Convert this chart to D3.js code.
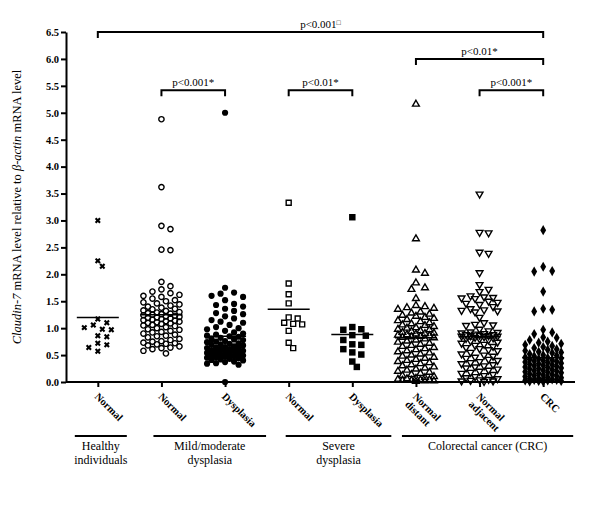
<!DOCTYPE html>
<html><head><meta charset="utf-8">
<script src="https://cdn.jsdelivr.net/npm/d3@7"></script>
<style>body{margin:0;background:#fff} svg{display:block}</style>
</head><body><svg id="chart" width="600" height="511"></svg>
<script>
// ---------- data ----------
const categories = ["hn","mn","md","sn","sd","cd","ca","crc"];
const categoryLabels = [["Normal"],["Normal"],["Dysplasia"],["Normal"],["Dysplasia"],["Normal","distant"],["Normal","adjacent"],["CRC"]];
const markerTypes = ["x","circleOpen","circleFilled","squareOpen","squareFilled","triUp","triDown","diamond"];

const healthyNormal = [3.00,2.25,2.15,1.17,1.10,1.06,1.01,0.98,0.97,0.86,0.84,0.72,0.69,0.64,0.57];
const mildNormal = [4.88,3.62,2.90,2.84,2.46,2.45,
  1.86,1.78,1.72,1.68,1.65,1.62,1.60,1.58,1.55,1.52,1.50,1.48,1.46,1.44,1.42,1.40,1.38,1.36,1.35,1.33,
  1.32,1.30,1.29,1.28,1.27,1.26,1.25,1.24,1.23,1.22,1.21,1.20,1.19,1.18,1.17,1.16,1.15,1.14,1.13,1.12,
  1.11,1.10,1.09,1.08,1.06,1.05,1.04,1.02,1.00,0.98,0.97,0.95,0.93,0.92,0.90,0.88,0.86,0.85,0.83,0.80,
  0.78,0.76,0.75,0.73,0.72,0.71,0.70,0.68,0.66,0.64,0.63,0.61,0.58,0.53];
const mildDysplasia = [5.00,1.75,1.66,1.64,1.60,1.58,1.52,1.45,1.43,1.40,1.36,1.32,1.28,1.26,1.22,1.18,1.15,
  1.12,1.10,1.06,1.02,1.00,0.98,0.95,0.92,0.90,0.88,0.86,0.85,0.84,0.82,0.80,0.79,0.78,0.76,0.75,0.74,
  0.72,0.71,0.70,0.69,0.68,0.66,0.65,0.64,0.63,0.62,0.61,0.60,0.59,0.58,0.57,0.56,0.55,0.54,0.53,0.52,
  0.51,0.50,0.49,0.48,0.47,0.46,0.45,0.44,0.43,0.42,0.41,0.40,0.38,0.37,0.35,0.34,0.32,0.00];
const severeNormal = [3.33,1.83,1.63,1.46,1.20,1.18,1.10,1.08,1.07,0.95,0.73,0.63];
const severeDysplasia = [3.06,1.02,0.98,0.97,0.87,0.86,0.78,0.70,0.69,0.61,0.55,0.51,0.38,0.28];
const crcDistant = [5.16,2.66,2.08,2.02,1.84,1.75,1.72,1.55,1.42,1.40,1.38,1.37,1.35,1.30,1.28,1.26,1.24,
  1.22,1.20,1.18,1.16,1.14,1.12,1.10,1.08,1.06,1.05,1.03,1.01,1.00,0.98,0.97,0.95,0.94,0.92,0.91,0.90,
  0.89,0.88,0.87,0.86,0.85,0.84,0.83,0.82,0.80,0.78,0.76,0.74,0.72,0.70,0.68,0.66,0.64,0.62,0.60,0.58,
  0.56,0.54,0.52,0.50,0.48,0.46,0.44,0.42,0.40,0.38,0.36,0.34,0.32,0.30,0.28,0.26,0.24,0.22,0.20,0.18,
  0.16,0.14,0.12,0.10,0.08,0.07,0.06,0.05,0.04,0.04,0.03,0.03,0.02,0.02,0.01];
const crcAdjacent = [3.49,2.78,2.77,2.41,2.39,2.03,1.81,1.72,1.68,1.60,1.58,1.57,1.56,1.55,1.50,1.48,1.46,
  1.44,1.40,1.36,1.34,1.33,1.32,1.30,1.20,1.10,1.07,1.06,1.05,0.98,0.95,0.93,0.92,0.91,0.90,0.89,0.88,
  0.88,0.87,0.86,0.86,0.85,0.85,0.84,0.83,0.82,0.81,0.80,0.78,0.76,0.74,0.72,0.70,0.68,0.66,0.64,0.62,
  0.60,0.58,0.55,0.52,0.50,0.48,0.46,0.44,0.42,0.40,0.38,0.36,0.34,0.32,0.30,0.28,0.26,0.24,0.22,0.20,
  0.18,0.16,0.14,0.12,0.10,0.08,0.06,0.05,0.04,0.03,0.02,0.02,0.01];
const crcTumour = [2.82,2.14,2.06,2.05,1.68,1.36,1.34,1.31,0.97,0.92,0.89,0.83,0.82,0.78,0.75,0.73,0.71,
  0.69,0.67,0.65,0.63,0.61,0.60,0.58,0.56,0.55,0.54,0.52,0.50,0.49,0.48,0.46,0.45,0.44,0.43,0.42,0.41,
  0.40,0.39,0.38,0.37,0.36,0.35,0.34,0.33,0.32,0.31,0.30,0.29,0.28,0.27,0.26,0.25,0.24,0.23,0.22,0.21,
  0.20,0.19,0.18,0.17,0.16,0.15,0.14,0.13,0.12,0.11,0.10,0.09,0.08,0.07,0.06,0.05,0.05,0.04,0.04,0.03,
  0.03,0.02,0.02,0.01,0.01];
const seriesValues = [healthyNormal,mildNormal,mildDysplasia,severeNormal,severeDysplasia,crcDistant,crcAdjacent,crcTumour];
const meanValues = [1.20,1.25,0.85,1.35,0.88,0.82,0.84,0.45];

const yTicks = [0,0.5,1,1.5,2,2.5,3,3.5,4,4.5,5,5.5,6,6.5];
const groupLabels = [["Healthy","individuals"],["Mild/moderate","dysplasia"],["Severe","dysplasia"],["Colorectal cancer (CRC)"]];
const groupSpans = [[0,0],[1,2],[3,4],[5,7]];
const brackets = [
  {from:0,to:7,level:6.5,label:"p<0.001",mark:"\u25A1"},
  {from:5,to:7,level:6.0,label:"p<0.01*",mark:""},
  {from:1,to:2,level:5.42,label:"p<0.001*",mark:""},
  {from:3,to:4,level:5.42,label:"p<0.01*",mark:""},
  {from:6,to:7,level:5.42,label:"p<0.001*",mark:""}
];

// ---------- layout ----------
const svg = d3.select("#chart");
const serif = "Liberation Serif, Times New Roman, serif";
const x = d3.scalePoint().domain(categories).range([66,575]).padding(0.5);
const y = d3.scaleLinear().domain([0,6.5]).range([382,32]);

// y axis
const yAxis = svg.append("g").attr("transform","translate(66,0)")
  .call(d3.axisLeft(y).tickValues(yTicks).tickFormat(d3.format(".1f")).tickSize(5).tickSizeOuter(0));
yAxis.select(".domain").attr("stroke","#000").attr("stroke-width",2);
yAxis.selectAll(".tick line").attr("stroke","#000").attr("stroke-width",2);
yAxis.selectAll(".tick text").attr("font-family",serif).attr("font-weight","bold").attr("font-size","10.5px").attr("fill","#000").attr("x",-7);

// x axis
const xAxis = svg.append("g").attr("transform","translate(0,382)")
  .call(d3.axisBottom(x).tickSize(5).tickSizeOuter(0).tickFormat(""));
xAxis.select(".domain").attr("stroke","#000").attr("stroke-width",2).attr("d","M66,0H575");
xAxis.selectAll(".tick line").attr("stroke","#000").attr("stroke-width",2);
xAxis.selectAll(".tick").each(function(d,i){
  const t = d3.select(this).append("text")
    .attr("transform","translate(1,10) rotate(45)")
    .attr("font-family",serif).attr("font-weight","bold").attr("font-size","10.5px")
    .attr("fill","#000").attr("text-anchor","start");
  categoryLabels[i].forEach((s,j)=>{
    t.append("tspan").attr("x",0).attr("dy", j===0 ? "0.7em" : "1.05em").text(s);
  });
});

// y title
const yt = svg.append("text").attr("transform","translate(21,207) rotate(-90)")
  .attr("text-anchor","middle").attr("font-family",serif).attr("font-size","12.5px").attr("fill","#000");
yt.append("tspan").attr("font-style","italic").text("Claudin-7");
yt.append("tspan").text(" mRNA level relative to ");
yt.append("tspan").attr("font-style","italic").text("\u03B2-actin");
yt.append("tspan").text(" mRNA level");

// group lines & labels
const groupPads = [[23,29],[8,41],[3,39],[14,30]];
groupSpans.forEach((sp,i)=>{
  const x0 = x(categories[sp[0]]) - groupPads[i][0];
  const x1 = x(categories[sp[1]]) + groupPads[i][1];
  svg.append("line").attr("x1",x0).attr("x2",x1).attr("y1",436).attr("y2",436)
    .attr("stroke","#000").attr("stroke-width",2);
  const t = svg.append("text").attr("x",(x0+x1)/2).attr("y",450)
    .attr("text-anchor","middle").attr("font-family",serif).attr("font-size","12px").attr("fill","#000");
  groupLabels[i].forEach((s,j)=>{
    t.append("tspan").attr("x",(x0+x1)/2).attr("dy", j===0 ? 0 : "1.2em").text(s);
  });
});

// brackets
brackets.forEach(b=>{
  const x0 = x(categories[b.from]), x1 = x(categories[b.to]), yy = y(b.level);
  svg.append("path").attr("d",`M${x0},${yy+6}V${yy}H${x1}V${yy+6}`)
    .attr("fill","none").attr("stroke","#000").attr("stroke-width",2);
  const t = svg.append("text").attr("x",(x0+x1)/2).attr("y",yy-4)
    .attr("text-anchor","middle").attr("font-family",serif).attr("font-size","11px").attr("fill","#000");
  t.append("tspan").text(b.label);
  if (b.mark) t.append("tspan").attr("font-size","7px").attr("dy","-3").text(b.mark);
});

// beeswarm layout
function swarm(values, cx, step, maxK, minDist){
  const order = values.map((v,i)=>i).sort((a,b)=>values[b]-values[a]);
  const placed = [], out = new Array(values.length);
  for (const i of order){
    const py = y(values[i]);
    let best=null, bestD=-1;
    for (let k=0;k<=2*maxK;k++){
      const off = (k%2===1?1:-1)*Math.ceil(k/2)*step;
      const px = cx+off;
      let md = Infinity;
      for (const p of placed){ const d=Math.hypot(p[0]-px,p[1]-py); if(d<md) md=d; }
      if (md>=minDist){ best=[px,py]; bestD=md; break; }
      if (md>bestD){ bestD=md; best=[px,py]; }
    }
    placed.push(best); out[i]=best;
  }
  return out;
}

const sym = {
  x:{type:d3.symbolCross,size:22,fill:"#000",stroke:"none",rot:45},
  circleOpen:{type:d3.symbolCircle,size:22,fill:"none",stroke:"#000",rot:0},
  circleFilled:{type:d3.symbolCircle,size:30,fill:"#000",stroke:"none",rot:0},
  squareOpen:{type:d3.symbolSquare,size:25,fill:"none",stroke:"#000",rot:0},
  squareFilled:{type:d3.symbolSquare,size:42,fill:"#000",stroke:"none",rot:0},
  triUp:{type:d3.symbolTriangle,size:20,fill:"none",stroke:"#000",rot:0},
  triDown:{type:d3.symbolTriangle,size:20,fill:"none",stroke:"#000",rot:180},
  diamond:{type:d3.symbolDiamond,size:30,fill:"#000",stroke:"none",rot:0}
};

categories.forEach((c,i)=>{
  const s = sym[markerTypes[i]];
  const pts = swarm(seriesValues[i], x(c), 4.5, 4, 7);
  svg.append("g").selectAll("path").data(pts).join("path")
    .attr("d", d3.symbol().type(s.type).size(s.size))
    .attr("transform", p=>`translate(${p[0]},${p[1]}) rotate(${s.rot})`)
    .attr("fill", s.fill).attr("stroke", s.stroke).attr("stroke-width",1.4);
  const ym = y(meanValues[i]);
  svg.append("line").attr("x1",x(c)-21).attr("x2",x(c)+21).attr("y1",ym).attr("y2",ym)
    .attr("stroke","#000").attr("stroke-width",1.5);
});
</script></body></html>
